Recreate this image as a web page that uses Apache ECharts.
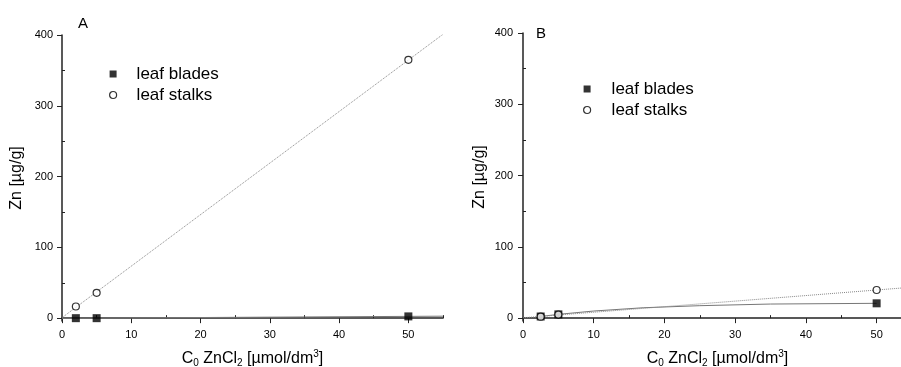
<!DOCTYPE html>
<html>
<head>
<meta charset="utf-8">
<script src="https://cdn.jsdelivr.net/npm/echarts@6/dist/echarts.min.js"></script>
<style>
  html, body { margin: 0; padding: 0; background: #fff; overflow: hidden; }
  #chart { width: 915px; height: 367px; }
</style>
</head>
<body>
<div id="chart"></div>
<script>
// --- values ---
const concA = [2, 5, 50];
const bladesA = [0, 0, 2.5];
const stalksA = [16.5, 35.8, 365];

const concB = [2.5, 5, 50];
const bladesB = [2.3, 5.3, 20.8];
const stalksB = [2.0, 5.0, 39.5];

// fitted lines (end points / traced curve)
const fitX = [0, 55];
const fitBladesA = [-0.2, 2.8];
const fitStalksA = [0.7, 401];
const fitStalksB = [0.5, 43.4];
const curveBladesBx = [2.5, 5, 10, 17, 25, 35, 50];
const curveBladesBy = [2.3, 5.3, 10, 14.6, 17.5, 19.8, 20.8];

const xMajor = [0, 10, 20, 30, 40, 50];
const xMinor = [5, 15, 25, 35, 45, 55];
const yMajor = [0, 100, 200, 300, 400];
const yMinor = [50, 150, 250, 350];

const FONT = "Liberation Sans, Arial, sans-serif";
const zip = (xs, ys) => xs.map((x, i) => [x, ys[i]]);

const chart = echarts.init(document.getElementById("chart"), null, { renderer: "canvas" });

const grids = [
  { left: 62, top: 35, width: 381, height: 286, outerBoundsMode: "none" },
  { left: 523, top: 33, width: 389, height: 288, outerBoundsMode: "none" }
];

const xName = "C{sub|0} ZnCl{sub|2} [µmol/dm{sup|3}]";
const nameRich = {
  sub: { fontSize: 10, fontFamily: FONT, color: "#000", verticalAlign: "bottom", lineHeight: 10, padding: [13, 0, 0, 0] },
  sup: { fontSize: 10, fontFamily: FONT, color: "#000", verticalAlign: "top", lineHeight: 10 }
};

function xAxes(gi, gap) {
  const base = { type: "value", gridIndex: gi, min: 0, max: 55, splitLine: { show: false } };
  return [
    Object.assign({}, base, {
      name: xName,
      nameLocation: "middle",
      nameGap: gap,
      nameTextStyle: { fontSize: 16, fontFamily: FONT, color: "#000", lineHeight: 19, rich: nameRich },
      axisLine: { lineStyle: { color: "#222", width: 1.5 } },
      axisTick: { customValues: xMajor, length: 5, lineStyle: { color: "#222" } },
      axisLabel: { customValues: xMajor, fontSize: 11, fontFamily: FONT, color: "#000", margin: 8 }
    }),
    Object.assign({}, base, {
      axisLine: { show: false },
      axisTick: { customValues: xMinor, length: 3, lineStyle: { color: "#222" } },
      axisLabel: { show: false }
    })
  ];
}

function yAxes(gi, gap, margin) {
  const base = { type: "value", gridIndex: gi, min: -4, max: 400, splitLine: { show: false } };
  return [
    Object.assign({}, base, {
      name: "Zn [µg/g]",
      nameLocation: "middle",
      nameGap: gap,
      nameRotate: 90,
      nameTextStyle: { fontSize: 16, fontFamily: FONT, color: "#000" },
      axisLine: { lineStyle: { color: "#222", width: 1.5 } },
      axisTick: { customValues: yMajor, length: 5, lineStyle: { color: "#222" } },
      axisLabel: { customValues: yMajor, fontSize: 11, fontFamily: FONT, color: "#000", margin: margin }
    }),
    Object.assign({}, base, {
      axisLine: { show: false },
      axisTick: { customValues: yMinor, length: 3, lineStyle: { color: "#222" } },
      axisLabel: { show: false }
    })
  ];
}

const squareStyle = { color: "#000" };
const circleStyle = { color: "#fff", borderColor: "#000", borderWidth: 1.2 };

function panelSeries(gi, conc, blades, stalks, bladesLine, stalksLine) {
  const xi = gi * 2, yi = gi * 2;
  return [
    {
      type: "line", xAxisIndex: xi, yAxisIndex: yi, data: bladesLine,
      showSymbol: false, symbol: "none", silent: true, z: 1,
      lineStyle: { color: "#777", width: 1 }
    },
    {
      type: "line", xAxisIndex: xi, yAxisIndex: yi, data: stalksLine,
      showSymbol: false, symbol: "none", silent: true, z: 1,
      lineStyle: { color: "#888", width: 1, type: "dotted" }
    },
    {
      name: "leaf blades", type: "scatter", xAxisIndex: xi, yAxisIndex: yi,
      symbol: "rect", symbolSize: 8, itemStyle: squareStyle, z: 3,
      data: zip(conc, blades)
    },
    {
      name: "leaf stalks", type: "scatter", xAxisIndex: xi, yAxisIndex: yi,
      symbol: "circle", symbolSize: 7, itemStyle: circleStyle, z: 4,
      data: zip(conc, stalks)
    }
  ];
}

function legendAt(left, top, pad) {
  return {
    left: left, top: top, orient: "vertical", itemGap: 1,
    itemWidth: 7, itemHeight: 7, selectedMode: false,
    textStyle: { fontSize: 17, fontFamily: FONT, color: "#000", lineHeight: 20, padding: [0, 0, 0, pad] },
    data: [
      { name: "leaf blades", icon: "rect", itemStyle: squareStyle },
      { name: "leaf stalks", icon: "circle", itemStyle: circleStyle }
    ]
  };
}

const option = {
  backgroundColor: "#fff",
  animation: false,
  grid: grids,
  xAxis: [...xAxes(0, 25), ...xAxes(1, 28)],
  yAxis: [...yAxes(0, 37, 9), ...yAxes(1, 35, 10)],
  legend: [legendAt(104, 59, 15), legendAt(578, 74, 16)],
  graphic: [
    { type: "text", left: 78, top: 16, style: { text: "A", fontSize: 15, fontFamily: FONT, fill: "#000" } },
    { type: "text", left: 536, top: 26, style: { text: "B", fontSize: 15, fontFamily: FONT, fill: "#000" } }
  ],
  series: [
    ...panelSeries(0, concA, bladesA, stalksA, zip(fitX, fitBladesA), zip(fitX, fitStalksA)),
    ...panelSeries(1, concB, bladesB, stalksB, zip(curveBladesBx, curveBladesBy), zip(fitX, fitStalksB))
  ]
};

chart.setOption(option);
</script>
</body>
</html>
